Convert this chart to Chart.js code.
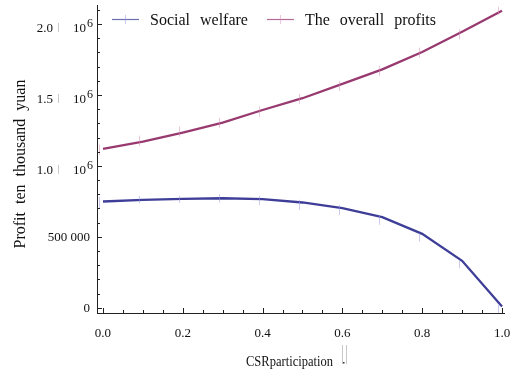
<!DOCTYPE html>
<html>
<head>
<meta charset="utf-8">
<script src="https://cdn.jsdelivr.net/npm/chart.js@4/dist/chart.umd.min.js"></script>
<style>
  html, body { margin: 0; padding: 0; background: #fff; }
  #wrap { width: 512px; height: 371px; }
</style>
</head>
<body>
<div id="wrap"><canvas id="c" width="512" height="371"></canvas></div>
<script>
// CSR participation level (x) and the two outcome series
const participation   = [0.0, 0.1, 0.2, 0.3, 0.4, 0.5, 0.6, 0.7, 0.8, 0.9, 1.0];
const socialWelfare   = [749000, 761000, 768000, 772000, 766000, 742000, 702000, 639000, 521000, 331000, 8000];
const overallProfits  = [1120000, 1171000, 1235000, 1305000, 1394000, 1477000, 1578000, 1680000, 1803000, 1946000, 2094000];

// uncertainty ranges drawn as small vertical bars
const welfareErrLow   = [697000, 737000, 739000, 742000, 725000, 690000, 655000, 585000, 467000, 280000, -37000];
const welfareErrHigh  = [782000, 789000, 789000, 801000, 789000, 761000, 725000, 655000, 526000, 331000, 21000];
const profitErrLow    = [1077000, 1141000, 1206000, 1268000, 1347000, 1435000, 1528000, 1634000, 1765000, 1892000, 2063000];
const profitErrHigh   = [1150000, 1213000, 1277000, 1338000, 1418000, 1507000, 1599000, 1704000, 1833000, 1963000, 2122000];

// tick values and labels
const xTickLabels = ['0.0', '0.2', '0.4', '0.6', '0.8', '1.0'];
const yTickValues = [0, 500000, 1000000, 1500000, 2000000];
const yTickLabels = ['0', '500\u2005000', '1.0 | 10^6', '1.5 | 10^6', '2.0 | 10^6'];

const SERIF = "'Liberation Serif', 'DejaVu Serif', serif";
const BLUE = 'rgb(62,62,152)';
const PURPLE = 'rgb(152,58,112)';
const BLUE_ERR = 'rgba(150,150,225,0.5)';
const PURPLE_ERR = 'rgba(215,140,180,0.5)';

const toPoints = ys => participation.map((x, i) => ({ x, y: ys[i] }));

// Inward tick marks, composite y labels, axis titles, legend and error bars
const decor = {
  id: 'decor',
  afterDatasetsDraw(chart) {
    const { ctx, scales: { x: xs, y: ys } } = chart;
    const shift = -0.009;
    ctx.save();
    ctx.lineWidth = 1;
    chart.data.datasets.forEach(ds => {
      ctx.strokeStyle = ds.errColor;
      ds.errLow.forEach((lo, i) => {
        const px = Math.round(xs.getPixelForValue(participation[i] + shift)) + 0.5;
        ctx.beginPath();
        ctx.moveTo(px, ys.getPixelForValue(lo));
        ctx.lineTo(px, ys.getPixelForValue(ds.errHigh[i]));
        ctx.stroke();
      });
    });
    ctx.restore();
  },
  afterDraw(chart) {
    const { ctx, chartArea: a, scales: { x: xs, y: ys } } = chart;
    ctx.save();
    ctx.strokeStyle = '#222';
    ctx.lineWidth = 1;
    // x ticks (minor every 0.05, major every 0.2)
    for (let k = 0; k <= 20; k++) {
      const px = Math.round(xs.getPixelForValue(k * 0.05)) + 0.5;
      const len = (k % 4 === 0) ? 5 : 3;
      ctx.beginPath();
      ctx.moveTo(px, a.bottom);
      ctx.lineTo(px, a.bottom - len);
      ctx.stroke();
    }
    // y ticks (minor every 100000, major every 500000)
    for (let k = 0; k <= 21; k++) {
      const py = Math.round(ys.getPixelForValue(k * 100000)) + 0.5;
      const len = (k % 5 === 0) ? 5 : 3;
      ctx.beginPath();
      ctx.moveTo(a.left, py);
      ctx.lineTo(a.left + len, py);
      ctx.stroke();
    }

    // y tick labels
    ctx.fillStyle = '#111';
    ctx.textBaseline = 'alphabetic';
    ctx.textAlign = 'right';
    yTickValues.forEach((v, i) => {
      const py = ys.getPixelForValue(v);
      const lab = yTickLabels[i];
      if (lab.indexOf('|') >= 0) {
        const parts = lab.split('|').map(s => s.trim());
        const [base, exp] = parts[1].split('^');
        const right = a.left - 4;
        ctx.font = '12px ' + SERIF;
        ctx.fillStyle = '#111';
        ctx.fillText(exp, right, py + 2.7);
        ctx.font = '13px ' + SERIF;
        ctx.fillText(base, right - 7, py + 8.3);
        ctx.fillStyle = '#c8c8c8';
        ctx.fillRect(right - 35, py - 1, 1, 9);
        ctx.fillStyle = '#111';
        ctx.fillText(parts[0], right - 40, py + 8.3);
      } else {
        ctx.font = '13px ' + SERIF;
        ctx.fillText(lab, a.left - 7, py + 4.5);
      }
    });

    // x axis title
    ctx.textAlign = 'left';
    ctx.font = '14px ' + SERIF;
    ctx.fillStyle = '#111';
    ctx.fillText('CSRparticipation', 246, 365.5, 87);
    ctx.fillStyle = '#c8c8c8';
    ctx.fillRect(342, 345, 1, 19);
    ctx.fillRect(346, 345, 1, 19);
    ctx.fillStyle = '#333';
    ctx.fillRect(343, 362, 1.5, 1.5);

    // y axis title
    ctx.save();
    ctx.translate(21, 164);
    ctx.rotate(-Math.PI / 2);
    ctx.textAlign = 'center';
    ctx.textBaseline = 'middle';
    ctx.font = '16px ' + SERIF;
    ctx.fillStyle = '#111';
    try { ctx.wordSpacing = '4px'; } catch (e) {}
    ctx.fillText('Profit ten thousand yuan', 0, 0);
    ctx.restore();

    // legend
    ctx.font = '16px ' + SERIF;
    ctx.textAlign = 'left';
    ctx.textBaseline = 'alphabetic';
    try { ctx.wordSpacing = '6px'; } catch (e) {}
    let lx = 112;
    const ly = 19;
    chart.data.datasets.forEach(ds => {
      ctx.strokeStyle = ds.borderColor;
      ctx.globalAlpha = 0.75;
      ctx.lineWidth = 1.2;
      ctx.beginPath();
      ctx.moveTo(lx, ly + 0.5);
      ctx.lineTo(lx + 27, ly + 0.5);
      ctx.stroke();
      ctx.globalAlpha = 1;
      ctx.strokeStyle = ds.errColor;
      ctx.lineWidth = 1;
      ctx.beginPath();
      ctx.moveTo(lx + 13.5, ly - 4);
      ctx.lineTo(lx + 13.5, ly + 5);
      ctx.stroke();
      ctx.fillStyle = '#111';
      const tx = lx + 38;
      ctx.fillText(ds.label, tx, ly + 5.5);
      lx = tx + ctx.measureText(ds.label).width + 19;
    });
    ctx.restore();
  }
};

new Chart(document.getElementById('c'), {
  type: 'line',
  data: {
    datasets: [
      {
        label: 'Social welfare',
        data: toPoints(socialWelfare),
        borderColor: BLUE,
        errColor: BLUE_ERR,
        errLow: welfareErrLow,
        errHigh: welfareErrHigh,
        borderWidth: 2.3,
        pointRadius: 0,
        tension: 0,
        fill: false
      },
      {
        label: 'The overall profits',
        data: toPoints(overallProfits),
        borderColor: PURPLE,
        errColor: PURPLE_ERR,
        errLow: profitErrLow,
        errHigh: profitErrHigh,
        borderWidth: 2.3,
        pointRadius: 0,
        tension: 0,
        fill: false
      }
    ]
  },
  options: {
    responsive: false,
    animation: false,
    devicePixelRatio: 1,
    layout: { padding: { top: 5, right: 8, left: 0, bottom: 0 } },
    plugins: { legend: { display: false }, tooltip: { enabled: false } },
    scales: {
      x: {
        type: 'linear',
        min: -0.015,
        max: 1.005,
        afterFit: s => { s.height = 58; s.paddingLeft = 0; s.paddingRight = 0; },
        border: { display: true, color: '#222', width: 1 },
        grid: { display: true, drawOnChartArea: false, drawTicks: false },
        ticks: {
          stepSize: 0.2,
          includeBounds: false,
          padding: 13,
          maxRotation: 0,
          color: '#111',
          font: { family: SERIF, size: 13 },
          callback: (v, i) => xTickLabels[i]
        }
      },
      y: {
        type: 'linear',
        min: -37000,
        max: 2134000,
        afterFit: s => { s.width = 97; s.paddingTop = 0; s.paddingBottom = 0; },
        border: { display: true, color: '#222', width: 1 },
        grid: { display: true, drawOnChartArea: false, drawTicks: false },
        ticks: { display: false }
      }
    }
  },
  plugins: [decor]
});
</script>
</body>
</html>
